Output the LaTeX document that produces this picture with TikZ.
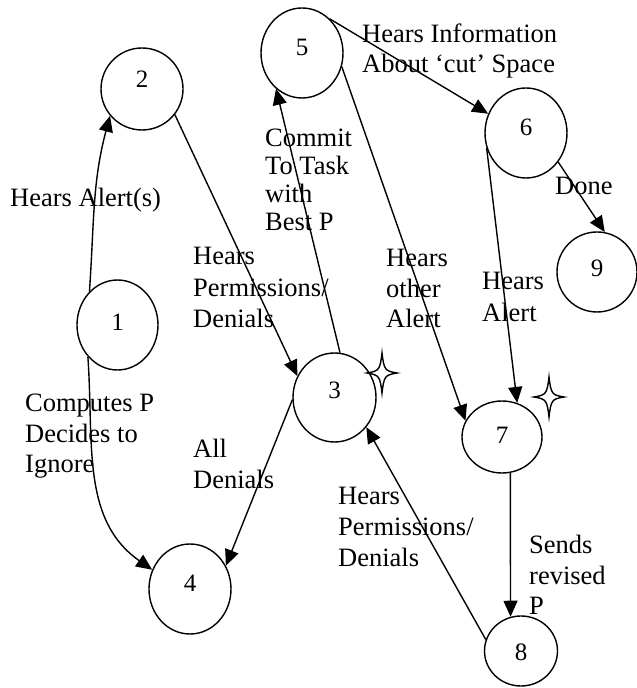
\documentclass[tikz,border=0pt]{standalone}
\usepackage{fontspec}
\setmainfont{Liberation Serif}
\usetikzlibrary{arrows.meta, shapes.geometric}
\begin{document}
\begin{tikzpicture}[x=1pt,y=1pt,
  st/.style={ellipse, draw, line width=1.4pt, inner sep=0pt},
  num/.style={font=\fontsize{25}{30}\selectfont, inner sep=0pt},
  lbl/.style={align=left, anchor=base west, inner sep=0pt},
  fa/.style={font=\fontsize{26.5}{30.5}\selectfont},
  edge/.style={line width=1.4pt, -{Triangle[length=16pt,width=14pt]}},
  sparkle/.pic={\draw[line width=1.4pt] (0,20) .. controls (2,3) and (3,2) .. (15,0)
     .. controls (3,-2) and (2,-3) .. (0,-20) .. controls (-2,-3) and (-3,-2) .. (-15,0)
     .. controls (-3,2) and (-2,3) .. cycle;}
]
\useasboundingbox (0,0) rectangle (637,688);

% states
\node[st, minimum width=81pt, minimum height=90pt] (n1) at (117.5,363) {};
\node[st, minimum width=82pt, minimum height=82pt] (n2) at (142,599) {};
\node[st, minimum width=83pt, minimum height=89pt] (n3) at (334.5,290.5) {};
\node[st, minimum width=82pt, minimum height=90pt] (n4) at (190,99) {};
\node[st, minimum width=82pt, minimum height=90pt] (n5) at (302,635) {};
\node[st, minimum width=82pt, minimum height=90pt] (n6) at (526,555) {};
\node[st, minimum width=80pt, minimum height=72pt] (n7) at (502,251) {};
\node[st, minimum width=73pt, minimum height=70pt] (n8) at (521,37) {};
\node[st, minimum width=80pt, minimum height=80pt] (n9) at (597,416) {};

\node[num, yshift=3pt] (t1) at (n1) {1};
\node[num, yshift=10pt] (t2) at (n2) {2};
\node[num, yshift=7.5pt] (t3) at (n3) {3};
\node[num, yshift=6pt] (t4) at (n4) {4};
\node[num, yshift=6pt] (t5) at (n5) {5};
\node[num, yshift=6pt] (t6) at (n6) {6};
\node[num, yshift=2pt] (t7) at (n7) {7};
\node[num, yshift=-1pt] (t8) at (n8) {8};
\node[num, yshift=4pt] (t9) at (n9) {9};

% sparkles
\pic at (382,315) {sparkle};
\pic at (549,291) {sparkle};

% transitions
\draw[edge] (n1.130) to[out=86, in=255] (n2.220);
\draw[edge] (n1.227) to[out=-86, in=145] (n4.153);
\draw[edge] (n2.-38) -- (n3.150);
\draw[edge] (n3.83) -- (n5.-126);
\draw[edge] (n3.183) -- (n4.33);
\draw[edge] (n5.51) -- (n6.153);
\draw[edge] (n5.-19) -- (n7.156);
\draw[edge] (n6.201) -- (n7.66);
\draw[edge] (n6.-42) -- (n9.79);
\draw[edge] (n7.-77) -- (n8.107);
\draw[edge] (n8.162) -- (n3.-43);

% labels (anchored at the baseline of the last line)
\node[lbl, fa] (l12) at (10,481) {Hears Alert(s)};
\node[lbl, font=\fontsize{26.5}{31.5}\selectfont] (l23) at (193,360) {Hears\\Permissions/\\Denials};
\node[lbl, font=\fontsize{26.5}{28}\selectfont] (l35) at (265,457) {Commit\\To Task\\with\\Best P};
\node[lbl, font=\fontsize{26.5}{30}\selectfont] (l56) at (362,615) {Hears Information\\About ‘cut’ Space};
\node[lbl, fa] (l69) at (555,493) {Done};
\node[lbl, fa] (l57) at (386,360) {Hears\\other\\Alert};
\node[lbl, font=\fontsize{26.5}{32}\selectfont] (l67) at (482,366) {Hears\\Alert};
\node[lbl, fa] (l14) at (25,215) {Computes P\\Decides to\\Ignore};
\node[lbl, font=\fontsize{26.5}{31}\selectfont] (l34) at (193,199) {All\\Denials};
\node[lbl, font=\fontsize{26.5}{31}\selectfont] (l83) at (338,121) {Hears\\Permissions/\\Denials};
\node[lbl, fa] (l78) at (529,73) {Sends\\revised\\P};
\end{tikzpicture}
\end{document}
